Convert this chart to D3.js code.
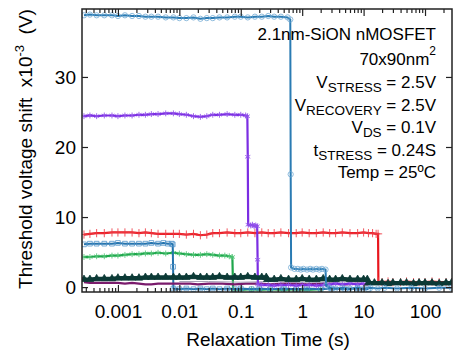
<!DOCTYPE html>
<html>
<head>
<meta charset="utf-8">
<script src="https://cdn.jsdelivr.net/npm/d3@7"></script>
<style>
  body { margin: 0; background: #fff; }
  svg text { font-family: Arial, "Liberation Sans", sans-serif; fill: #000; white-space: pre; }
</style>
</head>
<body>
<div id="chart"></div>
<script>
// ---- data: [relaxation time (s), shift (mV)] ----
const circlesSeries = [[0.00028,38.8],[0.00035,38.9],[0.00045,38.8],[0.0006,38.8],[0.0008,38.8],[0.001,38.7],[0.0013,38.8],[0.0017,38.7],[0.0022,38.7],[0.0028,38.6],[0.0035,38.6],[0.0045,38.6],[0.006,38.5],[0.008,38.5],[0.01,38.4],[0.013,38.4],[0.017,38.5],[0.022,38.3],[0.028,38.4],[0.035,38.4],[0.045,38.5],[0.06,38.5],[0.08,38.6],[0.1,38.6],[0.13,38.5],[0.17,38.6],[0.22,38.6],[0.28,38.7],[0.35,38.6],[0.45,38.6],[0.58,38.5],[0.64,38.2],[0.65,16.1],[0.66,2.8],[0.75,2.6],[0.85,2.6],[0.95,2.5],[1.05,2.6],[1.2,2.5],[1.35,2.6],[1.5,2.5],[1.7,2.6],[1.9,2.5],[2.1,2.6],[2.4,2.5],[2.45,0.2],[2.8,-0.1],[3.5,-0.2],[4.5,-0.1],[6,-0.2],[8,-0.1],[10,-0.2],[13,-0.1],[17,-0.2],[22,-0.1],[35,-0.2],[60,-0.1],[100,-0.2],[170,-0.1],[270,-0.1]];

const purpleSeries = [[0.00028,24.4],[0.00035,24.5],[0.00045,24.4],[0.0006,24.5],[0.0008,24.5],[0.001,24.4],[0.0013,24.5],[0.0017,24.5],[0.0022,24.6],[0.0028,24.6],[0.0035,24.7],[0.0045,24.7],[0.006,24.8],[0.008,24.8],[0.01,24.7],[0.013,24.6],[0.017,24.4],[0.022,24.3],[0.028,24.4],[0.035,24.6],[0.045,24.6],[0.06,24.7],[0.08,24.6],[0.1,24.6],[0.12,24.5],[0.128,24.4],[0.13,18.6],[0.132,8.9],[0.145,8.8],[0.155,8.9],[0.165,8.7],[0.175,8.8],[0.185,8.7],[0.188,3.9],[0.19,0.4],[0.22,0.3],[0.28,0.3],[0.35,0.2],[0.45,0.3],[0.6,0.3],[0.8,0.2],[1,0.3],[1.3,0.3],[1.7,0.2],[2.2,0.3],[2.8,0.4],[3.5,0.5],[4.5,0.4],[6,0.5],[8,0.4],[10,0.5]];

const redSeries = [[0.00028,7.5],[0.00035,7.6],[0.00045,7.7],[0.0006,7.7],[0.0008,7.8],[0.001,7.8],[0.0013,7.8],[0.0017,7.8],[0.0022,7.7],[0.0028,7.8],[0.0035,7.7],[0.0045,7.6],[0.006,7.6],[0.008,7.6],[0.01,7.6],[0.013,7.5],[0.017,7.6],[0.022,7.4],[0.028,7.5],[0.035,7.7],[0.045,7.7],[0.06,7.8],[0.08,7.7],[0.1,7.7],[0.13,7.8],[0.17,7.7],[0.22,7.8],[0.28,7.7],[0.35,7.7],[0.45,7.8],[0.6,7.7],[0.8,7.7],[1,7.8],[1.3,7.7],[1.7,7.7],[2.2,7.8],[2.8,7.7],[3.5,7.7],[4.5,7.8],[6,7.7],[8,7.7],[10,7.8],[12,7.7],[14,7.7],[16,7.6],[17.2,7.6],[17.4,0.8],[20,0.7],[25,0.8],[30,0.7],[40,0.7],[50,0.8],[65,0.7],[80,0.7],[100,0.7],[130,0.8],[170,0.7],[220,0.7],[270,0.7]];

const greenSeries = [[0.00028,4.3],[0.00035,4.3],[0.00045,4.4],[0.0006,4.4],[0.0008,4.5],[0.001,4.5],[0.0013,4.6],[0.0017,4.7],[0.0022,4.7],[0.0028,4.8],[0.0035,4.8],[0.0045,4.9],[0.006,4.8],[0.008,4.9],[0.01,4.8],[0.013,4.7],[0.017,4.6],[0.022,4.6],[0.028,4.7],[0.035,4.6],[0.045,4.5],[0.055,4.5],[0.065,4.4],[0.073,4.3],[0.075,-0.3],[0.1,-0.4],[0.15,-0.3],[0.2,-0.4],[0.3,-0.3],[0.5,-0.4],[0.8,-0.3],[1.2,-0.4],[2,-0.3]];

const squaresSeries = [[0.00028,6.1],[0.00035,6.2],[0.00045,6.2],[0.0006,6.2],[0.0008,6.2],[0.001,6.3],[0.0013,6.2],[0.0017,6.2],[0.0022,6.2],[0.0028,6.2],[0.0035,6.3],[0.0045,6.2],[0.0055,6.3],[0.0065,6.2],[0.0075,6.2],[0.0078,6.1],[0.0079,2.9],[0.008,-0.2],[0.01,-0.3],[0.013,-0.2],[0.017,-0.3],[0.022,-0.2],[0.028,-0.3],[0.035,-0.2],[0.045,-0.3],[0.06,-0.2],[0.08,-0.3],[0.1,-0.2],[0.15,-0.3],[0.2,-0.2],[0.3,-0.3],[0.5,-0.2],[0.8,-0.3],[1.2,-0.2],[2,-0.3],[3,-0.2],[5,-0.3],[8,-0.2],[12,-0.3]];

const darkSeries = [[0.00028,1.1],[0.00035,1.1],[0.00045,1.2],[0.0006,1.2],[0.0008,1.2],[0.001,1.3],[0.0013,1.3],[0.0017,1.3],[0.0022,1.3],[0.0028,1.4],[0.0035,1.4],[0.0045,1.4],[0.006,1.4],[0.008,1.4],[0.01,1.4],[0.013,1.4],[0.017,1.5],[0.022,1.4],[0.028,1.4],[0.035,1.4],[0.045,1.5],[0.06,1.4],[0.08,1.4],[0.1,1.4],[0.13,1.5],[0.17,1.4],[0.22,1.4],[0.26,1.4],[0.27,1.1],[0.35,1.1],[0.45,1.2],[0.6,1.1],[0.8,1.1],[1,1.2],[1.3,1.1],[1.7,1.1],[2.2,1.2],[2.8,1.1],[3.5,1.1],[4.5,1.2],[6,1.1],[8,1.1],[10,1.1],[11.5,1.1],[12,0.6],[15,0.6],[20,0.6],[25,0.5],[30,0.6],[40,0.6],[50,0.6],[65,0.5],[80,0.6],[100,0.6],[130,0.6],[170,0.5],[220,0.6],[270,0.6]];

const magentaSeries = [[0.00028,0.7],[0.00035,0.6],[0.00045,0.6],[0.0006,0.6],[0.0008,0.6],[0.001,0.6],[0.0013,0.5],[0.0017,0.6],[0.0022,0.5],[0.0028,0.4],[0.0035,0.4],[0.0045,0.5],[0.006,0.5],[0.008,0.5],[0.01,0.5],[0.015,0.5],[0.02,0.4],[0.03,0.5],[0.05,0.5],[0.08,0.4],[0.12,0.5],[0.2,0.5],[0.3,0.4],[0.5,0.5],[0.8,0.5],[1.2,0.4],[2,0.5],[3,0.5],[5,0.4],[8,0.5],[12,0.4]];

const graySeries = [[0.01,0.8],[0.03,0.8],[0.1,0.7],[0.3,0.8],[1,0.7],[3,0.7],[10,0.8]];

const xMajorTicks = [0.001, 0.01, 0.1, 1, 10, 100];
const xTickLabels = ["0.001", "0.01", "0.1", "1", "10", "100"];
const yTicks = [0, 10, 20, 30];

const annotation = [
  [{t: "2.1nm-SiON nMOSFET"}],
  [{t: "70x90nm"}, {t: "2", sup: true}],
  [{t: "V"}, {t: "STRESS", sub: true}, {t: " = 2.5V"}],
  [{t: "V"}, {t: "RECOVERY", sub: true}, {t: " = 2.5V"}],
  [{t: "V"}, {t: "DS", sub: true}, {t: " = 0.1V"}],
  [{t: "t"}, {t: "STRESS", sub: true}, {t: " = 0.24S"}],
  [{t: "Temp = 25ºC"}]
];

// ---- layout ----
const W = 453, H = 354;
const plot = {left: 82, right: 452, top: 9, bottom: 292};

const svg = d3.select("#chart").append("svg")
  .attr("width", W)
  .attr("height", H);

const x = d3.scaleLog()
  .domain([2.6e-4, 275])
  .range([plot.left, plot.right]);

const y = d3.scaleLinear()
  .domain([-0.7, 39.7])
  .range([plot.bottom, plot.top]);

svg.append("clipPath").attr("id", "clip")
  .append("rect")
  .attr("x", plot.left).attr("y", plot.top)
  .attr("width", plot.right - plot.left).attr("height", plot.bottom - plot.top);

const line = d3.line().x(d => x(d[0])).y(d => y(d[1]));

const series = [
  {data: redSeries, color: "#e8161d", marker: "plus", mcolor: "#ee3a44", width: 2.2},
  {data: greenSeries, color: "#1fa64c", marker: "asterisk", mcolor: "#4fc474", width: 2.2},
  {data: squaresSeries, color: "#2473ad", marker: "square", mcolor: "#4c90c8", width: 2},
  {data: magentaSeries, color: "#7a1b6c", marker: null, width: 2.2},
  {data: graySeries, color: "#a9a3b8", marker: null, width: 1},
  {data: purpleSeries, color: "#7b2de2", marker: "asterisk", mcolor: "#9150ea", width: 2.2},
  {data: darkSeries, color: "#0c3a36", marker: "triangle", mcolor: "#0c3a36", width: 4},
  {data: circlesSeries, color: "#2a7bb3", marker: "circle", mcolor: "#6ca7d2", width: 2}
];

const symbolTypes = {
  plus: d3.symbolPlus || d3.symbolCross,
  asterisk: d3.symbolAsterisk || d3.symbolTimes,
  square: d3.symbolSquare,
  triangle: d3.symbolTriangle,
  circle: d3.symbolCircle
};

const plotG = svg.append("g").attr("clip-path", "url(#clip)");

series.forEach(s => {
  const g = plotG.append("g");
  g.append("path")
    .datum(s.data)
    .attr("fill", "none")
    .attr("stroke", s.color)
    .attr("stroke-width", s.width)
    .attr("d", line);
  if (s.marker) {
    const filled = s.marker === "triangle";
    const open = s.marker === "circle" || s.marker === "square";
    const size = s.marker === "triangle" ? 24 : (open ? 22 : 24);
    g.selectAll("path.m")
      .data(s.data)
      .enter().append("path")
      .attr("class", "m")
      .attr("transform", d => `translate(${x(d[0])},${y(d[1])})`)
      .attr("d", d3.symbol().type(symbolTypes[s.marker]).size(size))
      .attr("fill", filled ? s.mcolor : "none")
      .attr("stroke", s.mcolor)
      .attr("stroke-width", s.marker === "plus" || s.marker === "asterisk" ? 1 : 0.9)
      .attr("stroke-opacity", 0.85);
  }
});

// ---- axes ----
const minorTicks = x.ticks().filter(t => !xMajorTicks.some(m => Math.abs(m - t) / m < 1e-6));

function styleAxis(g) {
  g.select(".domain").remove();
  g.selectAll(".tick line").attr("stroke", "#222").attr("stroke-width", 1.2);
  g.selectAll("text").style("font-size", "19px").attr("fill", "#000");
}

svg.append("g")
  .attr("transform", `translate(0,${plot.bottom})`)
  .call(d3.axisBottom(x).tickValues(xMajorTicks).tickSize(-7).tickPadding(13)
    .tickFormat((d, i) => xTickLabels[i]))
  .call(styleAxis);

svg.append("g")
  .attr("transform", `translate(0,${plot.bottom})`)
  .call(d3.axisBottom(x).tickValues(minorTicks).tickSize(-4).tickFormat(""))
  .call(styleAxis);

svg.append("g")
  .attr("transform", `translate(0,${plot.top})`)
  .call(d3.axisTop(x).tickValues(xMajorTicks).tickSize(-7).tickFormat(""))
  .call(styleAxis);

svg.append("g")
  .attr("transform", `translate(0,${plot.top})`)
  .call(d3.axisTop(x).tickValues(minorTicks).tickSize(-4).tickFormat(""))
  .call(styleAxis);

svg.append("g")
  .attr("transform", `translate(${plot.left},0)`)
  .call(d3.axisLeft(y).tickValues(yTicks).tickSize(-6).tickPadding(6))
  .call(styleAxis);

svg.append("g")
  .attr("transform", `translate(${plot.right},0)`)
  .call(d3.axisRight(y).tickValues(yTicks).tickSize(-6).tickFormat(""))
  .call(styleAxis);

// frame
svg.append("rect")
  .attr("x", plot.left).attr("y", plot.top)
  .attr("width", plot.right - plot.left).attr("height", plot.bottom - plot.top)
  .attr("fill", "none")
  .attr("stroke", "#222")
  .attr("stroke-width", 1.5);

// ---- axis titles ----
svg.append("text")
  .attr("x", 268).attr("y", 346)
  .attr("text-anchor", "middle")
  .style("font-size", "19px")
  .text("Relaxation Time (s)");

const yTitle = svg.append("text")
  .attr("transform", "translate(32,149) rotate(-90)")
  .attr("text-anchor", "middle")
  .style("font-size", "19px");
yTitle.append("tspan").text("Threshold voltage shift  x10");
yTitle.append("tspan").attr("dy", -8).style("font-size", "13px").text("-3");
yTitle.append("tspan").attr("dy", 8).text("  (V)");

// ---- annotation block ----
const baselines = [40, 65, 88, 110.5, 133, 155.5, 178];
annotation.forEach((parts, i) => {
  const t = svg.append("text")
    .attr("x", 436).attr("y", baselines[i])
    .attr("text-anchor", "end")
    .style("font-size", "17px");
  let shift = 0;
  parts.forEach(p => {
    const ts = t.append("tspan").text(p.t);
    let target = p.sub ? 4 : (p.sup ? -10 : 0);
    if (target !== shift) ts.attr("dy", target - shift);
    shift = target;
    if (p.sub) ts.style("font-size", "13.5px");
    if (p.sup) ts.style("font-size", "12px");
  });
});
</script>
</body>
</html>
